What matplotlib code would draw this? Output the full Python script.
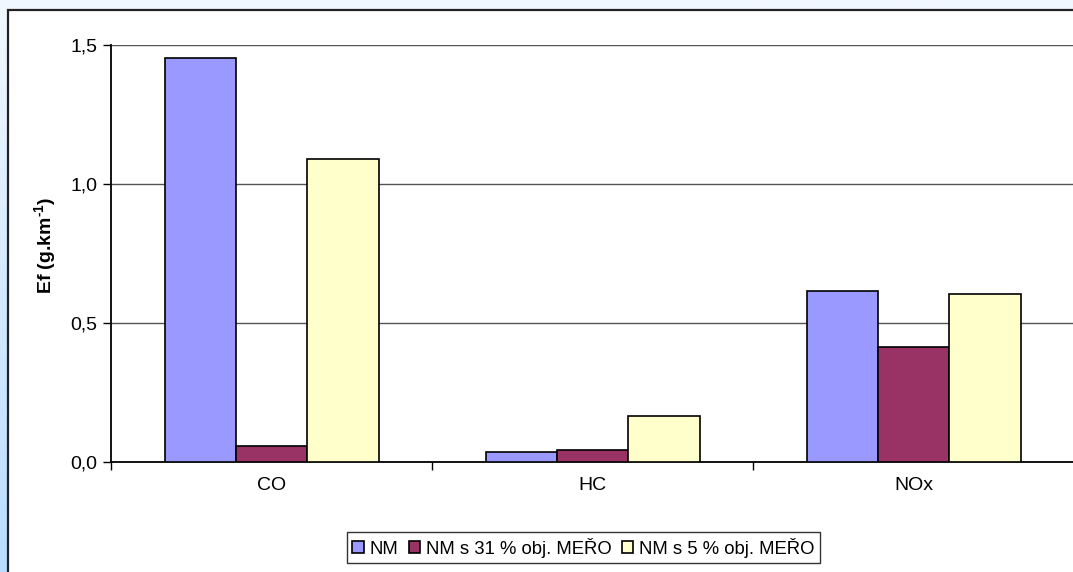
import numpy as np
import matplotlib
matplotlib.use("Agg")
import matplotlib.pyplot as plt
from matplotlib.patches import Rectangle

plt.rcParams['font.family'] = ['Liberation Sans', 'DejaVu Sans']
plt.rcParams['mathtext.fontset'] = 'custom'
plt.rcParams['mathtext.rm'] = 'Liberation Sans:bold'
plt.rcParams['mathtext.bf'] = 'Liberation Sans:bold'

categories = ["CO", "HC", "NOx"]
series_names = ["NM", "NM s 31 % obj. MEŘO", "NM s 5 % obj. MEŘO"]
nm = [1.453, 0.037, 0.615]
nm_31 = [0.058, 0.043, 0.414]
nm_5 = [1.090, 0.167, 0.603]
colors = ["#9999FF", "#993366", "#FFFFCC"]
y_ticks = [0.0, 0.5, 1.0, 1.5]

W, H = 1073, 572
fig = plt.figure(figsize=(W / 100, H / 100), dpi=100)

# background gradient + white chart area with frame
bg = fig.add_axes([0, 0, 1, 1], zorder=-10)
grad = np.linspace(0, 1, 256).reshape(-1, 1)
cmap = matplotlib.colors.LinearSegmentedColormap.from_list("bg", ["#F2F8FF", "#B8DCFF"])
bg.imshow(grad, aspect="auto", cmap=cmap, extent=[0, 1, 0, 1], origin="upper")
bg.add_patch(Rectangle((8 / W, -0.05), 1.1, 1 - 10 / H + 0.05, facecolor="white",
                       edgecolor="#222222", linewidth=1.6, transform=bg.transAxes))
bg.set_xlim(0, 1)
bg.set_ylim(0, 1)
bg.axis("off")

ax = fig.add_axes([111 / W, 1 - 462 / H, 963 / W, 417 / H])
ax.set_facecolor("none")

x = np.arange(len(categories))
width = 1 / 4.5
for i, (vals, name, c) in enumerate(zip([nm, nm_31, nm_5], series_names, colors)):
    ax.bar(x + (i - 1) * width, vals, width, color=c, edgecolor="black",
           linewidth=1.2, label=name, zorder=3)

ax.set_xlim(-0.5, len(categories) - 0.5)
ax.set_ylim(0, 1.5)
ax.set_yticks(y_ticks)
ax.set_yticklabels([f"{v:.1f}".replace(".", ",") for v in y_ticks], fontsize=14)
ax.yaxis.grid(True, color="#555555", linewidth=1.0, zorder=0)
ax.set_axisbelow(True)

ax.set_xticks(x)
ax.set_xticklabels(categories, fontsize=14)
ax.tick_params(axis="x", length=0, pad=11)
ax.set_xticks(np.arange(len(categories)) - 0.5, minor=True)
ax.tick_params(axis="x", which="minor", length=6, width=1, direction="out")
ax.tick_params(axis="y", length=6, width=1, direction="out", pad=4)

for s in ["top", "right"]:
    ax.spines[s].set_visible(False)
ax.spines["left"].set_linewidth(1.3)
ax.spines["bottom"].set_linewidth(1.3)

ax.set_ylabel(r"Ef (g.km$^{\text{-1}}$)", fontsize=14, fontweight="bold")
ax.yaxis.set_label_coords(-52 / 963, 0.52)

leg = fig.legend(loc="center", bbox_to_anchor=(583.5 / W, 1 - 547.5 / H), ncol=3,
                 fontsize=13.3, frameon=True, fancybox=False, handlelength=0.6,
                 handleheight=0.6, handletextpad=0.3, columnspacing=0.6,
                 borderpad=0.3, borderaxespad=0)
leg.get_frame().set_edgecolor("black")
leg.get_frame().set_linewidth(1.0)

fig.savefig("out.png", dpi=100)
